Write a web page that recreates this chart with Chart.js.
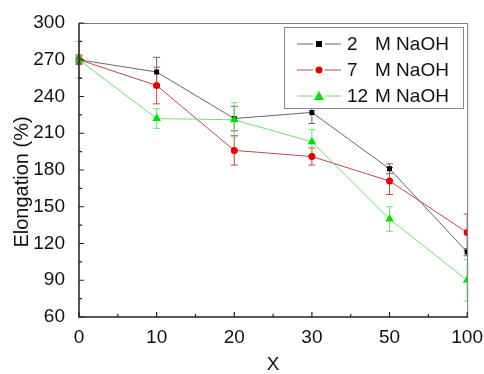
<html>
<head>
  <meta charset="UTF-8">
  <script src="https://cdn.jsdelivr.net/npm/chart.js@4.4.1/dist/chart.umd.min.js"></script>
  <style> body {padding: 0; margin: 0; background: #fff;} </style>
</head>
<body>
<canvas id="myChart" width="484" height="374"></canvas>
<script>
// values
var xLabels = ['0', '10', '20', '30', '50', '100'];
var naoh2 = [270, 260, 222, 227, 181, 113];
var naoh2Err = [3, 12, 10, 9, 4, 3];
var naoh7 = [270, 249, 196, 191, 171, 129];
var naoh7Err = [4, 15, 12, 7, 11, 15];
var naoh12 = [270, 222, 221, 203, 140, 90];
var naoh12Err = [15, 8, 14, 10, 10, 17];
var seriesNames = ['2', '7', '12'];
var yTitle = 'Elongation (%)';

var FONT = '"Liberation Sans", Arial, sans-serif';

var series = [
  {name: seriesNames[0], data: naoh2, err: naoh2Err, line: '#666666', mark: '#000000', style: 'rect', r: 3.5},
  {name: seriesNames[1], data: naoh7, err: naoh7Err, line: '#c04848', mark: '#e00000', style: 'circle', r: 3.5},
  {name: seriesNames[2], data: naoh12, err: naoh12Err, line: '#70e070', mark: '#00e000', style: 'triangle', r: 5}
];

// error bars, drawn under the markers
var errorBars = {
  id: 'errorBars',
  beforeDatasetsDraw: function(chart) {
    var ctx = chart.ctx, ys = chart.scales.y, xs = chart.scales.x, a = chart.chartArea;
    ctx.save();
    ctx.beginPath();
    ctx.rect(0, 0, a.right, chart.height);
    ctx.clip();
    ctx.lineWidth = 1;
    series.forEach(function(s) {
      ctx.strokeStyle = s.line;
      for (var i = 0; i < s.data.length; i++) {
        var x = xs.getPixelForValue(i);
        var t = ys.getPixelForValue(s.data[i] + s.err[i]);
        var b = ys.getPixelForValue(s.data[i] - s.err[i]);
        ctx.beginPath();
        ctx.moveTo(x, t); ctx.lineTo(x, b);
        ctx.moveTo(x - 3.5, t); ctx.lineTo(x + 3.5, t);
        ctx.moveTo(x - 3.5, b); ctx.lineTo(x + 3.5, b);
        ctx.stroke();
      }
    });
    ctx.restore();
  }
};

// inward ticks, frame, y title and legend
var frame = {
  id: 'frame',
  afterDraw: function(chart) {
    var ctx = chart.ctx, ys = chart.scales.y, xs = chart.scales.x, a = chart.chartArea;
    ctx.save();
    ctx.strokeStyle = '#777';
    ctx.lineWidth = 1;
    ctx.beginPath();
    ctx.moveTo(a.left, a.top + 0.5); ctx.lineTo(a.right + 0.5, a.top + 0.5);
    ctx.lineTo(a.right + 0.5, a.bottom);
    ctx.stroke();

    ctx.strokeStyle = '#222';
    ctx.lineWidth = 1.5;
    ctx.beginPath();
    ctx.moveTo(a.left, a.top); ctx.lineTo(a.left, a.bottom); ctx.lineTo(a.right + 1, a.bottom);
    ctx.stroke();

    ctx.lineWidth = 1.2;
    ctx.beginPath();
    for (var v = 60; v <= 300; v += 15) {
      var y = ys.getPixelForValue(v);
      var len = (v % 30 === 0) ? 5 : 3;
      ctx.moveTo(a.left, y); ctx.lineTo(a.left + len, y);
    }
    for (var i = 0; i < xLabels.length; i++) {
      var x = xs.getPixelForValue(i);
      ctx.moveTo(x, a.bottom); ctx.lineTo(x, a.bottom - 5);
      if (i < xLabels.length - 1) {
        var m = (x + xs.getPixelForValue(i + 1)) / 2;
        ctx.moveTo(m, a.bottom); ctx.lineTo(m, a.bottom - 3);
      }
    }
    ctx.stroke();

    // y axis title
    ctx.save();
    ctx.translate(22, 182);
    ctx.rotate(-Math.PI / 2);
    ctx.fillStyle = '#111';
    ctx.font = '20px ' + FONT;
    ctx.textAlign = 'center';
    ctx.textBaseline = 'middle';
    ctx.fillText(yTitle, 0, 0);
    ctx.restore();

    // legend
    var bx = 284, by = 27, bw = 179, bh = 81;
    ctx.fillStyle = '#fff';
    ctx.fillRect(bx, by, bw, bh);
    ctx.strokeStyle = '#888';
    ctx.lineWidth = 1;
    ctx.strokeRect(bx + 0.5, by + 0.5, bw, bh);
    ctx.font = '19px ' + FONT;
    ctx.textBaseline = 'middle';
    series.forEach(function(s, k) {
      var ry = 44 + k * 26;
      ctx.strokeStyle = s.line;
      ctx.lineWidth = 1;
      ctx.beginPath();
      ctx.moveTo(297, ry); ctx.lineTo(313, ry);
      ctx.moveTo(325, ry); ctx.lineTo(341, ry);
      ctx.stroke();
      ctx.fillStyle = s.mark;
      ctx.beginPath();
      if (s.style === 'rect') {
        ctx.rect(319 - 3, ry - 3, 6, 6);
      } else if (s.style === 'circle') {
        ctx.arc(319, ry, 3.5, 0, Math.PI * 2);
      } else {
        ctx.moveTo(319, ry - 5); ctx.lineTo(324, ry + 4); ctx.lineTo(314, ry + 4); ctx.closePath();
      }
      ctx.fill();
      ctx.fillStyle = '#111';
      ctx.textAlign = 'left';
      ctx.fillText(s.name, 347, ry + 1);
      ctx.fillText('M NaOH', 375, ry + 1);
    });
    ctx.restore();
  }
};

var ctx = document.getElementById('myChart').getContext('2d');
var myChart = new Chart(ctx, {
  type: 'line',
  data: {
    labels: xLabels,
    datasets: series.map(function(s, k) {
      return {
        label: s.name + ' M NaOH',
        data: s.data,
        order: series.length - k,
        borderColor: s.line,
        borderWidth: 1,
        backgroundColor: s.mark,
        pointBackgroundColor: s.mark,
        pointBorderColor: s.mark,
        pointBorderWidth: 0,
        pointStyle: s.style,
        pointRadius: s.r,
        tension: 0,
        clip: {left: 10, top: 10, right: 0, bottom: 10}
      };
    })
  },
  options: {
    responsive: false,
    animation: false,
    layout: {padding: {top: 23, right: 15, left: 0, bottom: 0}},
    plugins: {legend: {display: false}, tooltip: {enabled: false}},
    scales: {
      x: {
        type: 'category',
        offset: false,
        grid: {display: false},
        border: {display: false},
        ticks: {color: '#111', font: {family: FONT, size: 19}, padding: 1, maxRotation: 0, autoSkip: false},
        title: {display: true, text: 'X', color: '#111', font: {family: FONT, size: 19, lineHeight: 1}, padding: 0},
        afterFit: function(scale) { scale.height = 57; }
      },
      y: {
        min: 60, max: 300,
        grid: {display: false},
        border: {display: false},
        ticks: {stepSize: 30, color: '#111', font: {family: FONT, size: 19}, padding: 6},
        afterFit: function(scale) { scale.width = 79; }
      }
    }
  },
  plugins: [errorBars, frame]
});
</script>
</body>
</html>
